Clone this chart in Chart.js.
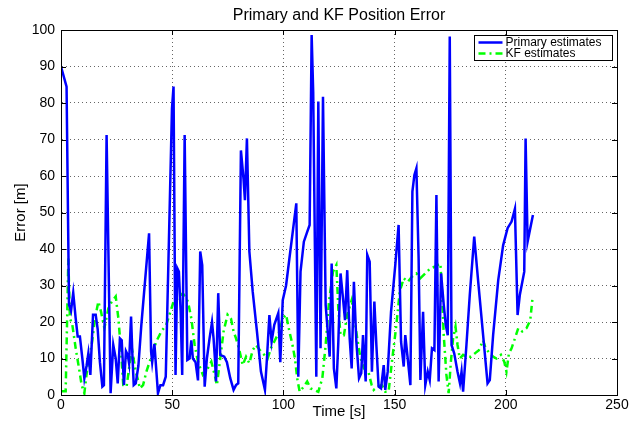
<!DOCTYPE html>
<html>
<head>
<meta charset="utf-8">
<title>Primary and KF Position Error</title>
<script src="https://cdn.jsdelivr.net/npm/chart.js@4.4.1/dist/chart.umd.min.js"></script>
<style>
  html, body { margin: 0; padding: 0; background: #fff; }
  #chart { display: block; }
</style>
</head>
<body>
<canvas id="chart" width="644" height="428"></canvas>
<script>
// time [s] and error [m]
const primaryTime = [
  0, 2.5, 3.6, 4.5, 5.5, 6.6, 7.5, 8.5, 9.6, 10.5, 11.5, 12.3, 13.2, 14.4, 15.6, 16.5, 17.5, 18.6, 19.3, 20.5,
  22.3, 23.5, 24.6, 25.5, 26.5, 27.3, 28.3, 29.2, 30, 30.6, 31.5, 32.1, 32.7, 33.6, 34.8, 36.1, 39.6, 40.5, 41.0, 42.0,
  43.6, 44.7, 45.9, 47.1, 49.9, 50.6, 51.5, 52.3, 53.0, 53.8, 54.5, 55.6, 56.8, 57.8, 58.6, 59.3, 60.5, 61.6, 62.6, 63.5,
  64.6, 65.6, 66.8, 67.9, 68.6, 69.2, 69.7, 70.7, 71.6, 73.4, 74.6, 76.1, 77.6, 78.7, 79.7, 80.9, 82.1, 82.7, 83.6, 84.7,
  86.2, 88.1, 89.9, 91.7, 92.6, 93.7, 94.7, 95.9, 97.7, 98.6, 99.7, 101.2, 102.7, 104.2, 105.8, 106.7, 107.7, 109.2, 110.7, 111.8,
  112.7, 113.4, 114.8, 115.7, 116.7, 117.8, 119, 120.8, 121.7, 122.7, 123.8, 124.7, 125.7, 126.8, 127.7, 128.7, 129.8, 130.7, 131.7, 132.8,
  134, 135, 135.8, 137, 137.7, 138.8, 139.8, 140.9, 141.8, 142.8, 143.9, 145.1, 145.8, 146.9, 148.4, 150.3, 151.8, 152.9, 154.1, 154.8,
  155.9, 157.1, 158, 158.9, 159.8, 160.8, 161.6, 162.8, 163.8, 164.9, 165.8, 166.8, 167.9, 168.8, 169.8, 170.9, 172.1, 173, 173.9, 174.8,
  175.6, 176.8, 178.3, 179.4, 180.1, 180.8, 182.3, 183.8, 185.8, 187.6, 189.8, 191.8, 192.8, 194.3, 196.6, 198.8, 200.8, 202.6, 204.1, 205.3,
  206.3, 208.3, 208.9, 209.8, 212.2
];
const primaryError = [
  90, 84.5, 24.7, 23, 28, 21, 16, 16, 10, 4.6, 8, 11.4, 5.5, 22, 22, 18, 9, 2.3, 2.7, 71.2,
  0.5, 13.7, 10, 3.2, 15.5, 15, 2.7, 12, 11, 8.7, 21.5, 11, 2.7, 3.2, 8, 19, 44.3, 12, 9, 14,
  0.5, 2.7, 2.7, 5, 78.5, 84.5, 5.5, 34.7, 33.8, 22.8, 5.5, 71.2, 9.6, 10, 15, 10, 9, 4, 39.3, 35.6,
  2.3, 10, 15.5, 20, 15.5, 10, 3.7, 27.9, 11, 10.5, 9, 4.6, 1.4, 2.7, 3.2, 67, 59, 53.4, 70.3, 39.3,
  28.3, 17.4, 6.4, 1.4, 10, 21.9, 14.6, 19.2, 22.4, 9, 26, 30, 37.4, 44.7, 52.5, 5, 33.8, 42, 44.7, 46.6,
  98.6, 83, 5, 80.4, 12.8, 81.7, 24.7, 10.5, 36, 7.3, 1.8, 14.6, 33.3, 26.5, 20.5, 34.2, 15.5, 7.3, 31, 14.6,
  4.6, 6, 16.4, 3.7, 38.4, 36.5, 6.4, 25.6, 13.7, 2.3, 1.8, 8.2, 1.4, 6.4, 22.8, 35.6, 46.6, 14.6, 7.8, 16.4,
  10, 2.7, 55.7, 60.3, 62.1, 37.4, 4.1, 22.8, 2.7, 6.4, 4.1, 12.8, 12.3, 54.8, 3.7, 33.3, 24.7, 19.2, 16.4, 98.2,
  13.7, 11.4, 6.4, 3.2, 6.4, 0.9, 13.7, 27.4, 43.4, 31, 16.4, 3.2, 4.1, 16.4, 31.5, 41, 45.7, 47.5, 51, 21.9,
  27.4, 33.8, 70.3, 42, 49.3
];
const kfTime = [
  0.3, 2.1, 3.3, 4, 5.1, 6.6, 8.1, 9.3, 10.5, 12, 13.8, 15.3, 16.8, 18, 19.5, 21.3, 22.8, 24.6, 25.8, 27,
  28, 29.5, 31, 32.1, 33.6, 34.8, 35.4, 36.9, 38.4, 40.6, 42.8, 45.1, 47.3, 48.8, 50.6, 52.6, 54.8, 57.1, 58.6, 60.1,
  61.6, 63.8, 65.6, 67.6, 69.1, 70.1, 71.6, 73.1, 74.9, 76.4, 77.6, 78.7, 80.2, 81.7, 83.2, 84.7, 86.2, 87.7, 89.9, 91.4,
  92.9, 94.4, 96.2, 98.2, 99.7, 101.2, 102.7, 104, 105.2, 106.2, 107.3, 109.2, 110.7, 112.2, 113.7, 115.7, 117.5, 119, 120.5, 122.3,
  123.8, 124.7, 125.7, 127.2, 128.7, 130.7, 131.7, 133.2, 134.7, 136.2, 138.2, 139.7, 140.6, 142.4, 144.3, 145.8, 147.3, 148.8, 150.8, 152.3,
  154.1, 155.9, 157.8, 159.8, 161.6, 163.8, 166.1, 168.3, 170.6, 171.3, 172.1, 173.3, 174.3, 175.3, 176.3, 177.4, 178.3, 179.3, 180.8, 182.3,
  184.3, 186.1, 187.9, 189.8, 190.9, 192.8, 194.3, 195.8, 197.8, 199.3, 200.3, 201.4, 202.6, 204.1, 205.6, 207.4, 209.3, 211, 212
];
const kfError = [
  1, 1, 37.4, 21, 19.2, 12.8, 7.3, 2.7, 0.5, 8.2, 13.7, 21, 25.6, 22.8, 18.3, 23.7, 25.6, 27, 21, 11.9,
  2.7, 2.3, 9.1, 11.9, 6.4, 3.7, 1.8, 2.7, 6.4, 10.5, 14.6, 17.4, 19.2, 22, 25.6, 26.5, 27.9, 25.6, 21, 13.7,
  9.1, 5.5, 6.8, 9.1, 5.5, 2.7, 10, 17.4, 22, 21, 17.4, 15.5, 12.3, 8.2, 10.5, 8.7, 12.3, 13.7, 11.9, 11,
  10, 12.8, 15, 17.4, 21, 22, 17.4, 14, 10, 4.6, 0.9, 2.3, 3.7, 1.8, 1.4, 0.9, 4.6, 13.7, 25.6, 33.8,
  35.6, 23.7, 16.4, 16.4, 22, 26, 22, 15.5, 10, 7.3, 6.4, 2.7, 1.4, 2.3, 2.7, 0.9, 0.9, 9.1, 19.2, 28.3,
  32, 31, 32.4, 33.3, 32, 33.3, 34.7, 35.2, 36, 28.3, 16.4, 5.5, 0.5, 9.1, 15.5, 18.7, 13.7, 10, 11, 10.5,
  10.5, 11.4, 12.3, 15, 12.8, 11.4, 10.5, 10, 11, 9.1, 6.4, 11.4, 12.8, 15.5, 18.3, 17.4, 18.3, 20.5, 26.5
];
const seriesLabels = ['Primary estimates', 'KF estimates'];
const xTicks = { min: 0, max: 250, step: 50 };
const yTicks = { min: 0, max: 100, step: 10 };

const FONT = 'Liberation Sans, Arial, Helvetica, sans-serif';

const toPoints = (xs, ys) => xs.map((x, i) => ({ x: x, y: ys[i] }));

// box round the axes plus inward tick marks, like a MATLAB figure
const axesBox = {
  id: 'axesBox',
  afterDatasetsDraw(chart) {
    const { ctx, chartArea: a, scales: { x, y } } = chart;
    ctx.save();
    ctx.strokeStyle = '#000';
    ctx.lineWidth = 1;
    ctx.setLineDash([]);
    ctx.beginPath();
    x.ticks.forEach(t => {
      const px = Math.round(x.getPixelForValue(t.value)) + 0.5;
      ctx.moveTo(px, a.bottom); ctx.lineTo(px, a.bottom - 5);
      ctx.moveTo(px, a.top); ctx.lineTo(px, a.top + 5);
    });
    y.ticks.forEach(t => {
      const py = Math.round(y.getPixelForValue(t.value)) + 0.5;
      ctx.moveTo(a.left, py); ctx.lineTo(a.left + 5, py);
      ctx.moveTo(a.right, py); ctx.lineTo(a.right - 5, py);
    });
    ctx.stroke();
    ctx.strokeRect(Math.round(a.left) + 0.5, Math.round(a.top) + 0.5,
      Math.round(a.right - a.left), Math.round(a.bottom - a.top));
    ctx.restore();
  }
};

// legend in the top right corner of the plot area
const boxLegend = {
  id: 'boxLegend',
  afterDraw(chart) {
    const { ctx, chartArea: a } = chart;
    const sets = chart.data.datasets;
    ctx.save();
    ctx.font = '12px ' + FONT;
    const textW = Math.max(...sets.map(d => ctx.measureText(d.label).width));
    const w = Math.round(textW + 42), h = 25;
    const left = Math.round(a.right - 5 - w) + 0.5, top = Math.round(a.top + 5) + 0.5;
    ctx.fillStyle = '#fff';
    ctx.fillRect(left, top, w, h);
    ctx.strokeStyle = '#000';
    ctx.lineWidth = 1;
    ctx.strokeRect(left, top, w, h);
    sets.forEach((d, i) => {
      const cy = top + 7 + i * 11;
      ctx.beginPath();
      ctx.strokeStyle = d.borderColor;
      ctx.lineWidth = d.borderWidth;
      ctx.setLineDash(d.borderDash || []);
      ctx.moveTo(left + 4, cy);
      ctx.lineTo(left + 28, cy);
      ctx.stroke();
      ctx.setLineDash([]);
      ctx.fillStyle = '#000';
      ctx.textBaseline = 'middle';
      ctx.fillText(d.label, left + 31, cy);
    });
    ctx.restore();
  }
};

const gridStyle = { color: 'rgba(0,0,0,0.6)', lineWidth: 1, drawTicks: false };
const borderStyle = { display: true, color: '#000', width: 1, dash: [1, 3] };

new Chart(document.getElementById('chart'), {
  type: 'line',
  data: {
    datasets: [
      {
        label: seriesLabels[0],
        data: toPoints(primaryTime, primaryError),
        borderColor: '#0000ff',
        borderWidth: 2.5,
        pointRadius: 0,
        tension: 0,
        fill: false
      },
      {
        label: seriesLabels[1],
        data: toPoints(kfTime, kfError),
        borderColor: '#00ff00',
        borderWidth: 2.5,
        borderDash: [7, 4, 2, 4],
        pointRadius: 0,
        tension: 0,
        fill: false
      }
    ]
  },
  options: {
    responsive: false,
    animation: false,
    devicePixelRatio: 1,
    layout: { padding: { left: 0, right: 27, top: 0, bottom: 0 } },
    plugins: {
      legend: { display: false },
      tooltip: { enabled: false },
      title: {
        display: true,
        fullSize: false,
        text: 'Primary and KF Position Error',
        color: '#000',
        font: { family: FONT, size: 16, weight: 'normal' },
        padding: { top: 6, bottom: 4.8 }
      }
    },
    scales: {
      x: {
        type: 'linear',
        min: xTicks.min,
        max: xTicks.max,
        afterFit: s => { s.height = 33; },
        border: borderStyle,
        grid: gridStyle,
        ticks: {
          stepSize: xTicks.step,
          padding: 2,
          color: '#000',
          font: { family: FONT, size: 14 },
          maxRotation: 0
        },
        title: {
          display: true,
          text: 'Time [s]',
          color: '#000',
          font: { family: FONT, size: 15 },
          padding: { top: 0, bottom: 7 }
        }
      },
      y: {
        min: yTicks.min,
        max: yTicks.max,
        afterFit: s => { s.width = 61; },
        border: borderStyle,
        grid: gridStyle,
        ticks: {
          stepSize: yTicks.step,
          padding: 6,
          color: '#000',
          font: { family: FONT, size: 14 }
        },
        title: {
          display: true,
          text: 'Error [m]',
          color: '#000',
          font: { family: FONT, size: 15 },
          padding: { top: 12, bottom: 0 }
        }
      }
    }
  },
  plugins: [axesBox, boxLegend]
});
</script>
</body>
</html>
